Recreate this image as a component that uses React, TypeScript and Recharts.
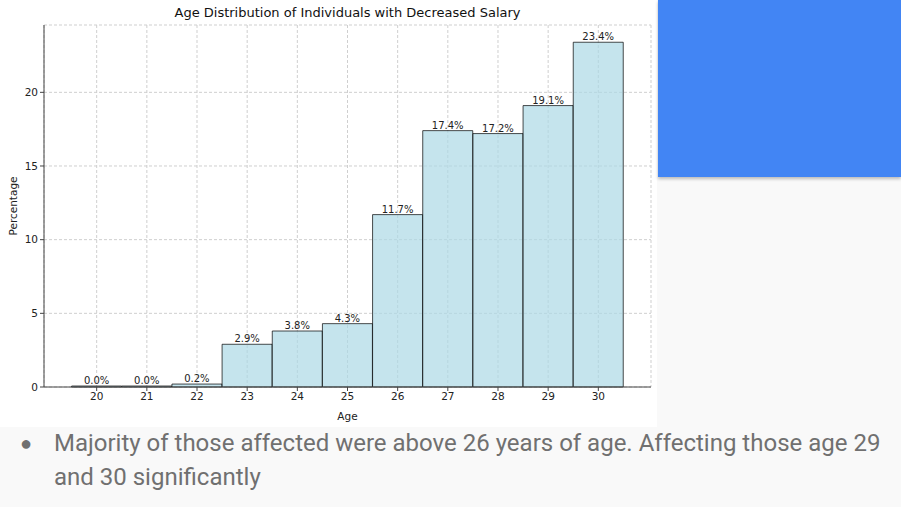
import React from 'react';
import { Bar, BarChart, XAxis, YAxis, CartesianGrid, LabelList } from 'recharts';

const ages = [20, 21, 22, 23, 24, 25, 26, 27, 28, 29, 30];
const percentages = [0.0, 0.0, 0.2, 2.9, 3.8, 4.3, 11.7, 17.4, 17.2, 19.1, 23.4];
const yTicks = [0, 5, 10, 15, 20];

const chartTitle = 'Age Distribution of Individuals with Decreased Salary';
const bulletText =
  'Majority of those affected were above 26 years of age. Affecting those age 29 and 30 significantly';

const font = '"DejaVu Sans", sans-serif';

const PercentLabel = ({ viewBox }: any) => {
  const cx = viewBox.x + 13;
  const cy = viewBox.y + viewBox.height / 2;
  return (
    <text
      x={cx}
      y={cy}
      transform={`rotate(-90, ${cx}, ${cy})`}
      textAnchor="middle"
      dominantBaseline="central"
      fontSize={10.5}
      fontFamily={font}
      fill="#222"
    >
      Percentage
    </text>
  );
};

const App: React.FC = () => {
  const data = ages.map((age, i) => ({ age, pct: percentages[i] }));

  return (
    <div
      style={{
        position: 'fixed',
        left: 0,
        top: 0,
        width: 901,
        height: 507,
        background: '#f9f9f9',
        overflow: 'hidden',
      }}
    >
      <div style={{ position: 'absolute', left: 0, top: 0, width: 657, height: 427, background: '#fff' }}>
        <div
          style={{
            position: 'absolute',
            left: 44,
            width: 607,
            top: 5,
            textAlign: 'center',
            fontFamily: font,
            fontSize: 13,
            color: '#111',
            lineHeight: '16px',
          }}
        >
          {chartTitle}
        </div>
        <BarChart
          width={657}
          height={427}
          data={data}
          margin={{ top: 25, right: 6, bottom: 0, left: 0 }}
          barCategoryGap={0}
          style={{ fontFamily: font }}
        >
          <CartesianGrid stroke="#cfcfcf" strokeDasharray="3 2" />
          <XAxis
            dataKey="age"
            height={40}
            padding={{ left: 27.6, right: 27.6 }}
            tickSize={4}
            tick={{ fontSize: 10.5, fill: '#222' }}
            tickLine={{ stroke: '#444' }}
            axisLine={{ stroke: '#444' }}
            label={{ value: 'Age', position: 'insideBottom', offset: 7, fontSize: 10.5, fill: '#222' }}
          />
          <XAxis
            xAxisId="top"
            dataKey="age"
            orientation="top"
            height={0}
            tick={false}
            tickLine={false}
            axisLine={{ stroke: '#444' }}
          />
          <YAxis
            width={44}
            domain={[0, 24.57]}
            ticks={yTicks}
            tickSize={4}
            tick={{ fontSize: 10.5, fill: '#222' }}
            tickLine={{ stroke: '#444' }}
            axisLine={{ stroke: '#444' }}
            label={<PercentLabel />}
          />
          <YAxis
            yAxisId="right"
            orientation="right"
            width={0}
            domain={[0, 1]}
            tick={false}
            tickLine={false}
            axisLine={{ stroke: '#444' }}
          />
          <Bar
            dataKey="pct"
            fill="#add8e6"
            fillOpacity={0.7}
            stroke="#000"
            strokeOpacity={0.7}
            minPointSize={1}
            isAnimationActive={false}
          >
            <LabelList
              dataKey="pct"
              position="top"
              offset={2}
              fontSize={10}
              fill="#222"
              formatter={(v: any) => `${Number(v).toFixed(1)}%`}
            />
          </Bar>
        </BarChart>
      </div>
      <div
        style={{
          position: 'absolute',
          left: 658,
          top: 0,
          width: 243,
          height: 177,
          background: '#4285f4',
          boxShadow: '0 2px 3px rgba(0,0,0,0.25)',
        }}
      />
      <div
        style={{
          position: 'absolute',
          left: 18,
          top: 426,
          width: 870,
          fontFamily: 'Roboto, sans-serif',
          fontSize: 24,
          lineHeight: '34px',
          color: '#707070',
          display: 'flex',
        }}
      >
        <span style={{ width: 37, flexShrink: 0, fontSize: 20, paddingLeft: 2 }}>●</span>
        <span style={{ marginLeft: -3 }}>{bulletText}</span>
      </div>
    </div>
  );
};

export default App;
